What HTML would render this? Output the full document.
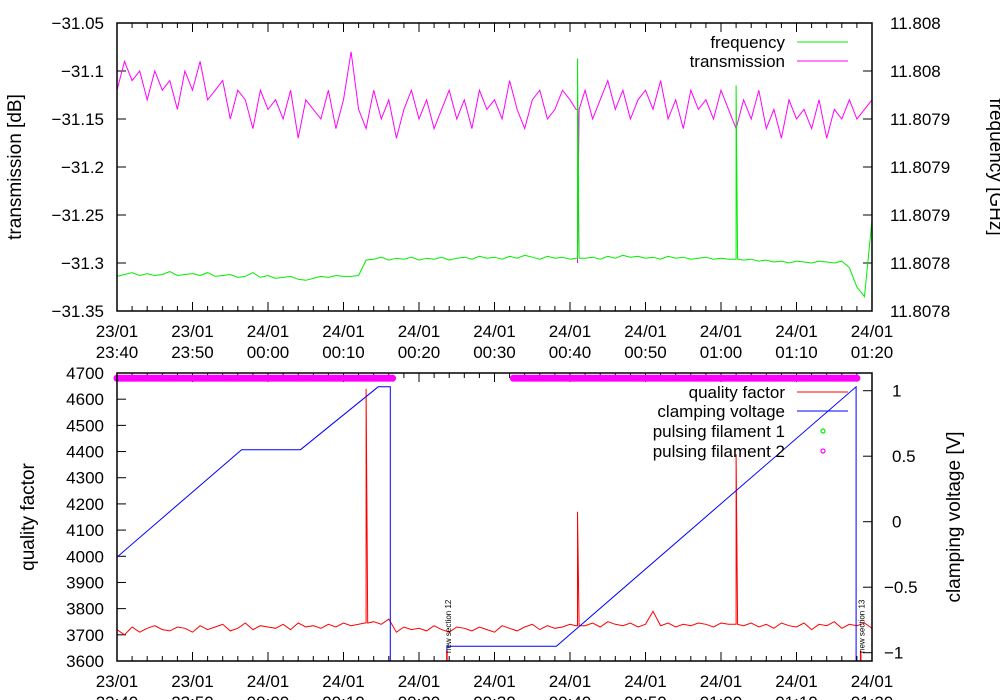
<!DOCTYPE html>
<html><head><meta charset="utf-8"><style>
html,body{margin:0;padding:0;background:#fff;}
svg{display:block;font-family:"Liberation Sans",sans-serif;}
</style></head><body>
<svg id="chart" width="1000" height="700" viewBox="0 0 1000 700" xmlns="http://www.w3.org/2000/svg"></svg>
<script>
// ---- data (time in minutes after 23:40) ----
const xTickLabels1 = ["23/01","23/01","24/01","24/01","24/01","24/01","24/01","24/01","24/01","24/01","24/01"];
const xTickLabels2 = ["23:40","23:50","00:00","00:10","00:20","00:30","00:40","00:50","01:00","01:10","01:20"];
const transTicks = [-31.35,-31.3,-31.25,-31.2,-31.15,-31.1,-31.05];
const freqTickLabels = ["11.8078","11.8078","11.8079","11.8079","11.8079","11.808","11.808"];
const qTicks = [3600,3700,3800,3900,4000,4100,4200,4300,4400,4500,4600,4700];
const vTicks = [-1,-0.5,0,0.5,1];
const transmission = [-31.12,-31.09,-31.11,-31.10,-31.13,-31.10,-31.12,-31.11,-31.14,-31.10,-31.12,-31.09,-31.13,-31.12,-31.11,-31.15,-31.12,-31.13,-31.16,-31.12,-31.14,-31.13,-31.15,-31.12,-31.17,-31.13,-31.14,-31.15,-31.12,-31.16,-31.13,-31.08,-31.14,-31.16,-31.12,-31.15,-31.13,-31.17,-31.14,-31.12,-31.15,-31.13,-31.16,-31.14,-31.12,-31.15,-31.13,-31.16,-31.12,-31.14,-31.13,-31.15,-31.11,-31.14,-31.16,-31.13,-31.12,-31.15,-31.14,-31.12,-31.13,-31.14,-31.12,-31.15,-31.13,-31.11,-31.14,-31.12,-31.15,-31.13,-31.12,-31.14,-31.11,-31.15,-31.13,-31.16,-31.12,-31.14,-31.13,-31.15,-31.12,-31.14,-31.16,-31.13,-31.15,-31.12,-31.16,-31.14,-31.17,-31.13,-31.15,-31.14,-31.16,-31.13,-31.17,-31.14,-31.15,-31.13,-31.15,-31.14,-31.13];
const transSpikeT = [61];
const transSpikeV = [-31.30];
const frequency = [-31.314,-31.312,-31.310,-31.313,-31.311,-31.313,-31.312,-31.309,-31.313,-31.312,-31.311,-31.313,-31.310,-31.314,-31.313,-31.312,-31.315,-31.314,-31.310,-31.315,-31.313,-31.316,-31.315,-31.314,-31.317,-31.318,-31.316,-31.314,-31.315,-31.313,-31.314,-31.314,-31.313,-31.297,-31.296,-31.294,-31.297,-31.295,-31.296,-31.294,-31.297,-31.295,-31.296,-31.294,-31.297,-31.295,-31.294,-31.296,-31.293,-31.295,-31.294,-31.296,-31.293,-31.295,-31.292,-31.294,-31.296,-31.293,-31.295,-31.294,-31.296,-31.295,-31.295,-31.294,-31.296,-31.293,-31.295,-31.292,-31.294,-31.293,-31.295,-31.294,-31.296,-31.293,-31.295,-31.294,-31.296,-31.295,-31.294,-31.296,-31.295,-31.296,-31.296,-31.297,-31.296,-31.298,-31.297,-31.299,-31.298,-31.300,-31.298,-31.299,-31.300,-31.298,-31.299,-31.300,-31.298,-31.305,-31.325,-31.335,-31.255];
const freqSpikeT = [61, 82];
const freqSpikeV = [-31.087, -31.115];
const quality = [3720,3700,3730,3710,3725,3735,3720,3715,3730,3725,3710,3735,3720,3730,3740,3715,3725,3745,3720,3735,3730,3725,3740,3720,3745,3730,3735,3725,3740,3730,3745,3735,3740,3745,3750,3740,3760,3710,3730,3720,3725,3715,3735,3720,3710,3730,3725,3715,3730,3720,3710,3735,3725,3715,3730,3740,3720,3735,3725,3730,3740,3735,3735,3745,3730,3750,3740,3735,3745,3730,3740,3790,3735,3745,3730,3740,3735,3745,3740,3730,3745,3740,3740,3735,3745,3730,3740,3725,3745,3735,3730,3745,3720,3740,3735,3750,3725,3740,3735,3745,3725];
const qSpikeT = [33, 61, 82];
const qSpikeV = [4640, 4170, 4390];
const clampT = [0,16.5,24.3,34.6,36.2,36.2,43.7,43.7,58.2,97.9,97.9];
const clampV = [-0.27,0.55,0.55,1.03,1.03,-1.1,-1.1,-0.95,-0.95,1.03,-1.1];
const fil2Start = [0,52.5];
const fil2End = [36.5,98];
const fil2Value = 4680;
const sections = [{t:43.7,label:"new section 12"},{t:98.5,label:"new section 13"}];

const svg = document.getElementById('chart');
const NS = "http://www.w3.org/2000/svg";
function mk(tag, attrs, parent){const e=document.createElementNS(NS,tag);for(const k in attrs)e.setAttribute(k,attrs[k]);(parent||svg).appendChild(e);return e;}
const X0=117, X1=872;
const xs = t => X0 + t*(X1-X0)/100;
const T0=23, T1=311;
const yT = v => T1 - (v+31.35)*(T1-T0)/0.3;
const B0=373, B1=661;
const yQ = v => B1 - (v-3600)*(B1-B0)/1100;
const yV = v => 521.7 - v*131;

// merge base series (1-minute samples) with narrow spikes
function series(vals, spT, spV){
  const n=vals.length, pts=[];
  for(let i=0;i<n;i++) pts.push([i*100/(n-1), vals[i]]);
  spT.forEach((t,k)=>{
    const i=Math.round(t*(n-1)/100);
    pts.push([t-0.2, vals[i]]); pts.push([t, spV[k]]); pts.push([t+0.2, vals[i]]);
  });
  pts.sort((a,b)=>a[0]-b[0]);
  return pts;
}
function pathPts(pts, yf){return pts.map((p,i)=>(i?"L":"M")+xs(p[0]).toFixed(1)+","+yf(p[1]).toFixed(1)).join("");}

function frame(y0,y1,name){
  const g=mk('g',{});
  
  
  for(let m=0;m<=100;m+=2){
    const major=m%10===0, L=major?9:5, x=xs(m);
    mk('line',{x1:x,x2:x,y1:y1,y2:y1-L,stroke:'#000','stroke-width':1},g);
    mk('line',{x1:x,x2:x,y1:y0,y2:y0+L,stroke:'#000','stroke-width':1},g);
  }
  xTickLabels1.forEach((s,i)=>{
    const t=mk('text',{x:xs(i*10),y:y1+26,'text-anchor':'middle','font-size':17},g);t.textContent=s;
    
    const t2=mk('text',{x:xs(i*10),y:y1+47,'text-anchor':'middle','font-size':17},g);t2.textContent=xTickLabels2[i];
    
  });
  return g;
}
const defs=mk('defs',{});
const c1=mk('clipPath',{id:'c1'},defs);mk('rect',{x:X0,y:T0,width:X1-X0,height:T1-T0},c1);
const c2=mk('clipPath',{id:'c2'},defs);mk('rect',{x:X0,y:B0,width:X1-X0,height:B1-B0},c2);

// ---- top plot ----
const gt=frame(T0,T1,'top');
transTicks.forEach((v,i)=>{
  const y=yT(v);
  mk('line',{x1:X0,x2:X0+9,y1:y,y2:y,stroke:'#000'},gt);
  mk('line',{x1:X1,x2:X1-9,y1:y,y2:y,stroke:'#000'},gt);
  const t=mk('text',{x:104,y:y+6,'text-anchor':'end','font-size':17},gt);t.textContent=String(v).replace('-','−');
  
  const t2=mk('text',{x:890,y:y+6,'font-size':17},gt);t2.textContent=freqTickLabels[i];
  
});
const tp=mk('path',{d:pathPts(series(transmission,transSpikeT,transSpikeV),yT),fill:'none',stroke:'#ff00ff','stroke-width':1,'clip-path':'url(#c1)'});


const fp=mk('path',{d:pathPts(series(frequency,freqSpikeT,freqSpikeV),yT),fill:'none',stroke:'#00ee00','stroke-width':1,'clip-path':'url(#c1)'});


mk('rect',{x:X0,y:T0,width:X1-X0,height:T1-T0,fill:'none',stroke:'#000','stroke-width':1.5});
let t;
t=mk('text',{x:785,y:48,'text-anchor':'end','font-size':17});t.textContent="frequency";
mk('line',{x1:797,x2:848,y1:42,y2:42,stroke:'#00ee00'});
t=mk('text',{x:785,y:67,'text-anchor':'end','font-size':17});t.textContent="transmission";
mk('line',{x1:797,x2:848,y1:61,y2:61,stroke:'#ff00ff'});
t=mk('text',{x:0,y:0,'text-anchor':'middle','font-size':19,transform:'translate(21,167) rotate(-90)'});t.textContent="transmission [dB]";
t=mk('text',{x:0,y:0,'text-anchor':'middle','font-size':19,transform:'translate(990,167) rotate(90)'});t.textContent="frequency [GHz]";

// ---- bottom plot ----
const gb=frame(B0,B1,'bottom');
qTicks.forEach(v=>{
  const y=yQ(v);
  mk('line',{x1:X0,x2:X0+9,y1:y,y2:y,stroke:'#000'},gb);
  const t=mk('text',{x:104,y:y+6,'text-anchor':'end','font-size':17},gb);t.textContent=v;
  
});
vTicks.forEach(v=>{
  const y=yV(v);
  mk('line',{x1:X1,x2:X1-9,y1:y,y2:y,stroke:'#000'},gb);
  const t=mk('text',{x:v<0?884:892,y:y+6,'font-size':17},gb);t.textContent=String(v).replace('-','−');
  
});
fil2Start.forEach((s,k)=>{
  for(let m=s;m<=fil2End[k];m+=0.25){
    const c=mk('circle',{cx:xs(m),cy:yQ(fil2Value),r:2.5,fill:'none',stroke:'#ff00ff','stroke-width':2});
    
  }
});
const qp=mk('path',{d:pathPts(series(quality,qSpikeT,qSpikeV),yQ),fill:'none',stroke:'#ff0000','stroke-width':1,'clip-path':'url(#c2)'});


const vp=mk('path',{d:clampT.map((tt,i)=>(i?"L":"M")+xs(tt).toFixed(1)+","+yV(clampV[i]).toFixed(1)).join(""),fill:'none',stroke:'#0000ff','stroke-width':1,'clip-path':'url(#c2)'});


sections.forEach(s=>{
  const x=xs(s.t);
  mk('line',{x1:x,x2:x,y1:B1,y2:B1-10,stroke:'#ff0000','stroke-width':1.5});
  const tt=mk('text',{x:0,y:0,'font-size':8,transform:`translate(${x+4},653) rotate(-90)`});tt.textContent=s.label;
  
});
mk('rect',{x:X0,y:B0,width:X1-X0,height:B1-B0,fill:'none',stroke:'#000','stroke-width':1.5});
const leg=[["quality factor",398,'line','#ff0000'],["clamping voltage",417,'line','#0000ff'],["pulsing filament 1",437,'dot','#00ee00'],["pulsing filament 2",457,'dot','#ff00ff']];
leg.forEach(l=>{
  const tt=mk('text',{x:785,y:l[1],'text-anchor':'end','font-size':17});tt.textContent=l[0];
  
  if(l[2]==='line')mk('line',{x1:797,x2:848,y1:l[1]-6,y2:l[1]-6,stroke:l[3]});
  else mk('circle',{cx:823,cy:l[1]-6,r:2,fill:'none',stroke:l[3],'stroke-width':1.2});
});
t=mk('text',{x:0,y:0,'text-anchor':'middle','font-size':19,transform:'translate(34,517) rotate(-90)'});t.textContent="quality factor";
t=mk('text',{x:0,y:0,'text-anchor':'middle','font-size':19,transform:'translate(960,517) rotate(-90)'});t.textContent="clamping voltage [V]";
</script>
</body></html>
